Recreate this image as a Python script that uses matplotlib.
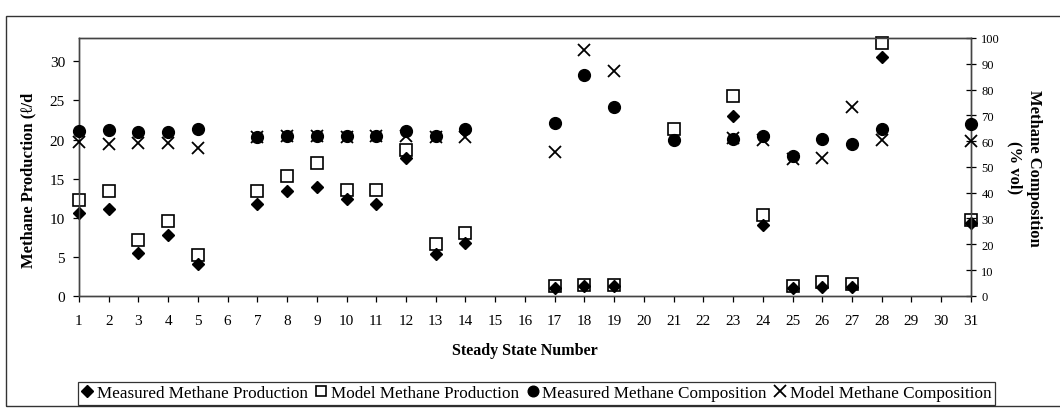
import numpy as np
import matplotlib
matplotlib.use("Agg")
import matplotlib.pyplot as plt
from matplotlib.patches import Rectangle

plt.rcParams['font.family'] = ['Liberation Serif', 'DejaVu Serif']

# steady states that have data
steady_state = [1, 2, 3, 4, 5, 7, 8, 9, 10, 11, 12, 13, 14,
                17, 18, 19, 21, 23, 24, 25, 26, 27, 28, 31]

# methane production, l/d
measured_prod = [10.6, 11.1, 5.5, 7.75, 4.05, 11.7, 13.4, 13.9, 12.4, 11.7, 17.6, 5.35, 6.7,
                 1.0, 1.2, 1.2, 19.9, 23.0, 9.0, 1.0, 1.1, 1.1, 30.6, 9.3]
model_prod = [12.3, 13.4, 7.2, 9.6, 5.2, 13.4, 15.3, 17.0, 13.6, 13.6, 18.7, 6.6, 8.0,
              1.2, 1.35, 1.4, 21.3, 25.6, 10.4, 1.3, 1.75, 1.55, 32.4, 9.7]

# methane composition, % vol
measured_comp = [63.9, 64.2, 63.6, 63.6, 64.5, 61.5, 62.1, 62.1, 61.8, 62.1, 63.9, 62.1, 64.5,
                 67.0, 85.5, 73.3, 60.6, 60.9, 61.8, 54.2, 60.9, 59.0, 64.5, 66.8]
model_comp = [59.8, 58.8, 59.4, 59.4, 57.3, 61.5, 62.0, 62.0, 61.5, 62.0, 61.8, 61.5, 61.5,
              55.8, 95.2, 87.3, np.nan, 61.2, 60.3, 53.0, 53.6, 73.3, 60.6, 60.1]

x_ticks = list(range(1, 32))

fig = plt.figure(figsize=(10.6, 4.14), dpi=100)
ax = fig.add_axes([0.0745, 0.283, 0.8415, 0.623])
ax2 = ax.twinx()

ax.plot(steady_state, model_prod, ls='none', marker='s', ms=8, mfc='white',
        mec='black', mew=1.2, clip_on=False, zorder=3, label='Model Methane Production')
ax.plot(steady_state, measured_prod, ls='none', marker='D', ms=6.5, color='black',
        clip_on=False, zorder=4, label='Measured Methane Production')
ax2.plot(steady_state, measured_comp, ls='none', marker='o', ms=8.5, color='black',
         clip_on=False, zorder=3, label='Measured Methane Composition')
ax2.plot(steady_state, model_comp, ls='none', marker='x', ms=9, color='black',
         mew=1.3, clip_on=False, zorder=4, label='Model Methane Composition')

ax.set_xlim(1, 31)
ax.set_ylim(0, 33)
ax2.set_ylim(0, 100)
ax.set_xticks(x_ticks)
ax.set_yticks(np.arange(0, 31, 5))
ax2.set_yticks(np.arange(0, 101, 10))

for a in (ax, ax2):
    for s in a.spines.values():
        s.set_color('#444444')
        s.set_linewidth(1.0)
ax.tick_params(axis='both', direction='out', length=4, width=0.9, labelsize=11, pad=6)
ax.tick_params(axis='x', pad=9)
ax2.tick_params(axis='y', direction='inout', length=7, width=0.9, labelsize=9, pad=4)

ax.set_xlabel('Steady State Number', fontsize=11.5, fontweight='bold', labelpad=11)
ax.set_ylabel('Methane Production (\u2113/d', fontsize=12, fontweight='bold')
ax.yaxis.set_label_coords(-0.048, 0.45)
ax2.set_ylabel('Methane Composition\n(% vol)', fontsize=12, fontweight='bold',
               rotation=-90, linespacing=1.3, labelpad=30)

# legend along the bottom, in a single row
h1, l1 = ax.get_legend_handles_labels()
h2, l2 = ax2.get_legend_handles_labels()
order = [1, 0]
handles = [h1[i] for i in order] + h2
labels = [l1[i] for i in order] + l2
leg = fig.legend(handles, labels, loc='center', bbox_to_anchor=(0.506, 0.048), ncol=4,
                 fontsize=12.3, frameon=True, fancybox=False, edgecolor='black',
                 handlelength=0.7, handletextpad=0.2, columnspacing=0.45,
                 borderpad=0.2, borderaxespad=0, markerscale=0.9)
leg.get_frame().set_linewidth(0.9)

# outer chart border
fig.patches.append(Rectangle((0.0057, 0.017), 1.2, 0.942, transform=fig.transFigure,
                             fill=False, edgecolor='#333333', lw=1.0))

fig.savefig('out.png', dpi=100)
